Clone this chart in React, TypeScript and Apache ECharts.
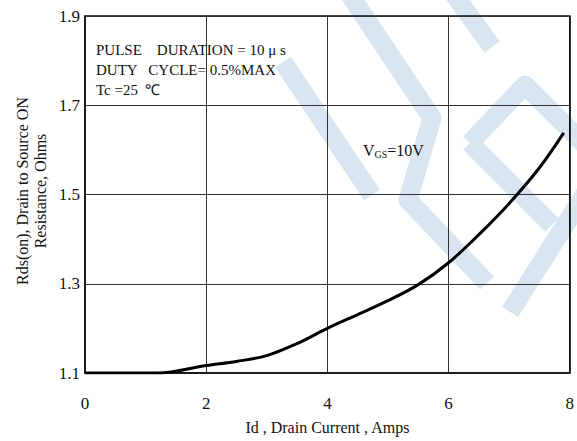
import React, { useEffect, useRef } from "react";
import * as echarts from "echarts";

// Id (A) vs Rds(on) (Ohm)
const currentA = [0, 1.2, 2, 2.5, 3, 3.5, 4, 4.5, 5, 5.5, 6, 6.5, 7, 7.5, 7.9];
const rdsOhm = [1.1, 1.1, 1.117, 1.126, 1.139, 1.166, 1.2, 1.231, 1.262, 1.298, 1.347, 1.41, 1.48, 1.56, 1.638];
const yTicks = [1.1, 1.3, 1.5, 1.7, 1.9];
const xMin = 0;
const xMax = 8;
const xStep = 2;

const noteLines = ["PULSE    DURATION = 10 μ s", "DUTY   CYCLE= 0.5%MAX", "Tc =25  ℃"];

const FONT = "Liberation Serif";
const WM = "#d9e6f1";

const wmBands: number[][][] = [
  [[440, -25], [492, 47]],
  [[340, -20], [432, 118], [408, 200], [487, 283]],
  [[283, 62], [372, 195]],
  [[470, 143], [525, 85], [600, 160]],
  [[470, 143], [552, 225]],
  [[600, 170], [510, 312]],
];

export default function App() {
  const ref = useRef<HTMLDivElement>(null);
  useEffect(() => {
    if (!ref.current) return;
    const chart = echarts.init(ref.current, undefined, { renderer: "svg" });
    const data = currentA.map((x, i) => [x, rdsOhm[i]]);
    const graphic: any[] = wmBands.map((pts) => ({
      type: "polyline",
      z: -10,
      silent: true,
      shape: { points: pts },
      style: { stroke: WM, lineWidth: 19, fill: null, lineJoin: "round", lineCap: "butt" },
    }));
    graphic.push({
      type: "text",
      left: 96,
      top: 40,
      style: {
        text: noteLines.join("\n"),
        fontFamily: FONT,
        fontSize: 15,
        lineHeight: 20,
        fill: "#111",
      },
      z: 10,
    });
    graphic.push({
      type: "text",
      x: 363,
      y: 150,
      style: {
        text: "{a|V}{b|GS}{a|=10V}",
        verticalAlign: "middle",
        rich: {
          a: { fontFamily: FONT, fontSize: 16, fill: "#111", lineHeight: 18 },
          b: { fontFamily: FONT, fontSize: 10, fill: "#111", lineHeight: 18, verticalAlign: "bottom", padding: [7, 0, 0, 0] },
        },
      },
      z: 10,
    });
    graphic.push({
      type: "text",
      x: 31,
      y: 191,
      rotation: Math.PI / 2,
      style: {
        text: "Rds(on), Drain to Source ON\nResistance, Ohms",
        fontFamily: FONT,
        fontSize: 16,
        lineHeight: 18,
        align: "center",
        verticalAlign: "middle",
        fill: "#111",
      },
    });
    chart.setOption({
      animation: false,
      backgroundColor: "#ffffff",
      grid: { left: 85, right: 7, top: 16, bottom: 68, show: true, borderColor: "#111", borderWidth: 1.5, backgroundColor: "transparent" },
      xAxis: {
        type: "value",
        min: xMin,
        max: xMax,
        interval: xStep,
        name: "Id , Drain Current , Amps",
        nameLocation: "middle",
        nameGap: 46,
        nameTextStyle: { fontFamily: FONT, fontSize: 16, color: "#111" },
        axisLine: { lineStyle: { color: "#111", width: 1.5 } },
        axisTick: { show: false },
        axisLabel: { fontFamily: FONT, fontSize: 17, color: "#111", margin: 22 },
        splitLine: { show: true, lineStyle: { color: "#333", width: 1 } },
      },
      yAxis: {
        type: "value",
        min: yTicks[0],
        max: yTicks[yTicks.length - 1],
        axisLine: { show: true, lineStyle: { color: "#111", width: 1.5 } },
        axisTick: { show: false, customValues: yTicks },
        axisLabel: { fontFamily: FONT, fontSize: 17, color: "#111", margin: 5, customValues: yTicks },
        splitLine: { show: true, lineStyle: { color: "#333", width: 1 } },
      },
      graphic,
      series: [
        {
          type: "line",
          data,
          smooth: 0.35,
          showSymbol: false,
          lineStyle: { color: "#000", width: 3 },
          z: 5,
        },
      ],
    });
    return () => chart.dispose();
  }, []);
  return <div ref={ref} style={{ position: "absolute", left: 0, top: 0, width: 577, height: 441 }} />;
}
